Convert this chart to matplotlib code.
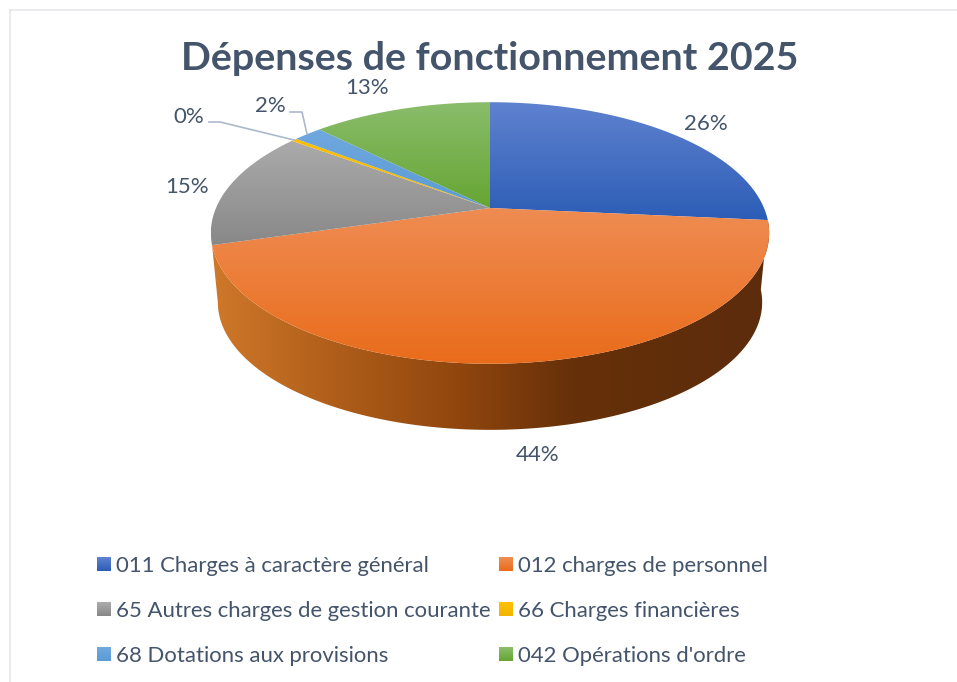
import numpy as np
import matplotlib
matplotlib.use("Agg")
import matplotlib.pyplot as plt
from matplotlib.colors import LinearSegmentedColormap
from matplotlib.legend_handler import HandlerBase
from matplotlib.patches import Polygon, Patch, Rectangle

plt.rcParams['font.family'] = ['Lato', 'DejaVu Sans']

TITLE = "Dépenses de fonctionnement 2025"
categories = ["011 Charges à caractère général", "012 charges de personnel",
              "65 Autres charges de gestion courante", "66 Charges financières",
              "68 Dotations aux provisions", "042 Opérations d'ordre"]
values = [26.5, 44.0, 14.6, 0.4, 2.0, 12.5]
labels = ["26%", "44%", "15%", "0%", "2%", "13%"]

top_colors = ["#5F82CF", "#EF8C52", "#ABABAB", "#FFC000", "#6FA8DE", "#8ABD6B"]
bot_colors = ["#2C5DB6", "#E96C1B", "#888888", "#F2B500", "#5B9BD5", "#66A533"]
side_stops = [(0.0, "#CF782A"), (0.2, "#B2601B"), (0.45, "#8F450D"),
              (0.65, "#663009"), (1.0, "#5C2C0D")]
TEXT = "#44546A"
LEADER = "#ADB9CA"
label_pos = [(706, 124), (538, 455), (187, 187), (189, 117), (270, 106), (367, 88)]
leaders = {3: [(209, 122), (220, 122), (294, 140)], 4: [(290, 112), (302, 112), (307, 134)]}

# perspective geometry of the tilted disc (pixels)
CX, CY, RX, RY, K = 490, 208, 274, 126, 0.191
BOT_S, BOT_CY = 0.975, 278


def project(theta, s=1.0, cy=CY):
    u, v = np.sin(theta), np.cos(theta)
    w = 1 + K * v
    return CX + s * RX * u / w, cy - s * RY * v / w


fig = plt.figure(figsize=(9.57, 6.82), dpi=100)
ax = fig.add_axes([0, 0, 1, 1])


def gradient_fill(poly, c0, c1, horizontal=False, stops=None):
    x0, y0 = poly.min(axis=0)
    x1, y1 = poly.max(axis=0)
    cmap = LinearSegmentedColormap.from_list("g", stops if stops else [c0, c1])
    g = np.linspace(0, 1, 256)
    g = g[None, :] if horizontal else g[:, None]
    im = ax.imshow(g, cmap=cmap, extent=(x0, x1, y1, y0), aspect="auto",
                   interpolation="bilinear", vmin=0, vmax=1, zorder=2)
    clip = Polygon(poly, closed=True, transform=ax.transData, fc="none", ec="none")
    ax.add_patch(clip)
    im.set_clip_path(clip)


fractions = np.array(values) / sum(values)
edges = np.concatenate([[0], np.cumsum(fractions)]) * 2 * np.pi

# side wall of the front slice; the lower rim runs on to its left-hand tangent
t_side = np.linspace(edges[1], edges[2], 300)
tx, ty = project(t_side)
t_low = np.linspace(edges[1], 2 * np.pi - np.arccos(-K), 300)
bx, by = project(t_low, BOT_S, BOT_CY)
side = np.column_stack([np.r_[tx, bx[::-1]], np.r_[ty, by[::-1]]])
gradient_fill(side, None, None, horizontal=True, stops=side_stops)

# top faces
for i in range(len(values)):
    t = np.linspace(edges[i], edges[i + 1], 200)
    x, y = project(t)
    poly = np.column_stack([np.r_[CX, x], np.r_[CY, y]])
    gradient_fill(poly, top_colors[i], bot_colors[i])

# frame
ax.plot([10, 10], [682, 10], color="#E3E5EC", lw=1.1, zorder=1)
ax.plot([10, 957], [10, 10], color="#E3E5EC", lw=1.1, zorder=1)

# leaders and data labels
for pts in leaders.values():
    ax.plot(*zip(*pts), color=LEADER, lw=1.2, zorder=3)
for lab, (x, y) in zip(labels, label_pos):
    ax.text(x, y, lab, color=TEXT, fontsize=16, ha="center", va="center", zorder=4)

ax.text(490, 58, TITLE, color=TEXT, fontsize=28.4, fontweight="bold",
        ha="center", va="center", zorder=4)


class GradientSwatch(HandlerBase):
    def create_artists(self, legend, orig, xd, yd, width, height, fontsize, trans):
        n = 14
        c = LinearSegmentedColormap.from_list("s", [orig.top, orig.bot])
        h = width
        y0 = -yd + height / 2 - h / 2
        return [Rectangle((-xd, y0 + h * (n - 1 - k) / n), width, h / n + 0.3,
                          fc=c(k / (n - 1)), ec="none", transform=trans) for k in range(n)]


handles = []
for i, c in enumerate(categories):
    p = Patch(label=c)
    p.top, p.bot = top_colors[i], bot_colors[i]
    handles.append(p)
order = [0, 2, 4, 1, 3, 5]
px = 72 / 100
fs = 15.9
ax.legend([handles[i] for i in order], [categories[i] for i in order], ncols=2,
          handler_map={Patch: GradientSwatch()}, frameon=False, prop={"size": fs},
          labelcolor=TEXT, loc="upper left", bbox_to_anchor=(97 / 957, 1 - 556 / 682),
          borderpad=0, borderaxespad=0, handlelength=14 * px / fs, handleheight=14 * px / fs,
          handletextpad=5 * px / fs, columnspacing=8 * px / fs, labelspacing=1.125)

ax.set_xlim(0, 957)
ax.set_ylim(682, 0)
ax.axis("off")
fig.savefig("out.png", dpi=100, facecolor="white")
